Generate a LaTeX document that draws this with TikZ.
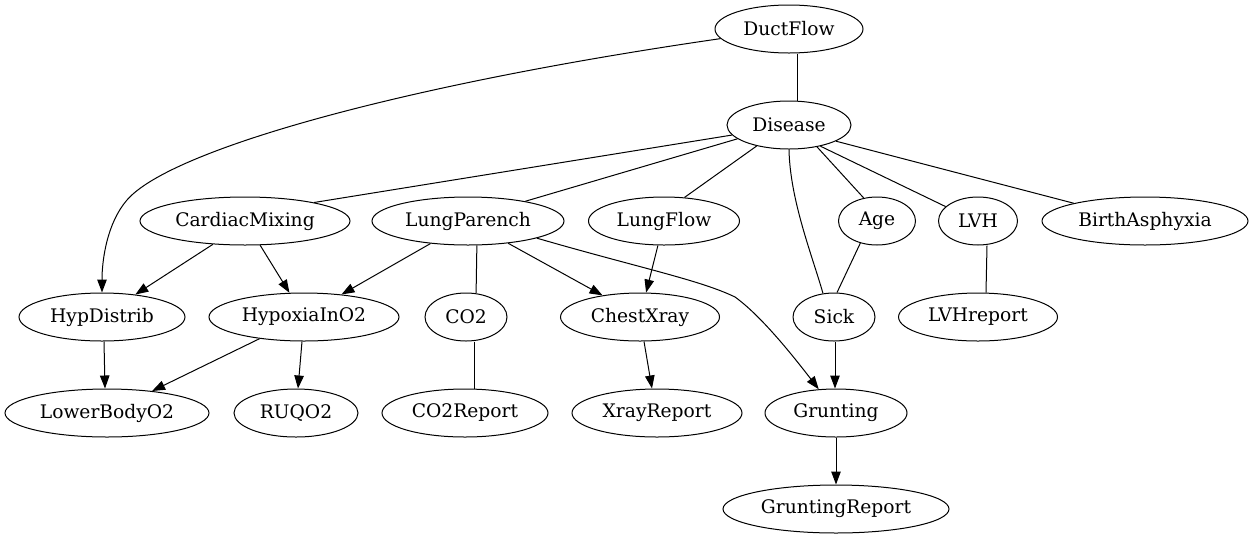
\documentclass[tikz,border=0pt]{standalone}
\usepackage{fontspec}
\setmainfont{DejaVu Serif}
\usetikzlibrary{arrows.meta,shapes.geometric}
\begin{document}
\begin{tikzpicture}[x=1pt,y=-1pt,
  nd/.style={draw,ellipse,line width=1pt,inner sep=0pt,minimum height=48pt,font=\fontsize{18.67}{22}\selectfont},
  ln/.style={line width=1pt},
  ar/.style={line width=1pt,-{Triangle[length=13pt,width=9.5pt]}}]
\useasboundingbox (0,0) rectangle (1253,539);
% row 0/1
\node[nd,minimum width=148pt] (DuctFlow) at (789,29) {DuctFlow};
\node[nd,minimum width=124pt] (Disease) at (789,125) {Disease};
% row 2
\node[nd,minimum width=210pt] (CardiacMixing) at (245,221) {CardiacMixing};
\node[nd,minimum width=192pt] (LungParench) at (468,221) {LungParench};
\node[nd,minimum width=151pt] (LungFlow) at (664,221) {LungFlow};
\node[nd,minimum width=77pt] (Age) at (877,221) {Age};
\node[nd,minimum width=79pt] (LVH) at (978,221) {LVH};
\node[nd,minimum width=206pt] (BirthAsphyxia) at (1145,221) {BirthAsphyxia};
% row 3
\node[nd,minimum width=166pt] (HypDistrib) at (102,317) {HypDistrib};
\node[nd,minimum width=190pt] (HypoxiaInO2) at (304,317) {HypoxiaInO2};
\node[nd,minimum width=82pt] (CO2) at (466,317) {CO2};
\node[nd,minimum width=159pt] (ChestXray) at (640,317) {ChestXray};
\node[nd,minimum width=82pt] (Sick) at (834,317) {Sick};
\node[nd,minimum width=159pt] (LVHreport) at (978,317) {LVHreport};
% row 4
\node[nd,minimum width=204pt] (LowerBodyO2) at (107,413) {LowerBodyO2};
\node[nd,minimum width=124pt] (RUQO2) at (296,413) {RUQO2};
\node[nd,minimum width=166pt] (CO2Report) at (465,413) {CO2Report};
\node[nd,minimum width=170pt] (XrayReport) at (657,413) {XrayReport};
\node[nd,minimum width=142pt] (Grunting) at (836,413) {Grunting};
% row 5
\node[nd,minimum width=226pt] (GruntingReport) at (836,509) {GruntingReport};

% edges
\draw[ln] ([xshift=8pt]DuctFlow.south) -- ([xshift=8pt]Disease.north);
\draw[ar] (DuctFlow.188) .. controls (400,85) and (170,150) .. (127,200)
          .. controls (107,223) and (102,260) .. (HypDistrib.north);
\draw[ln] (Disease.190) -- (CardiacMixing.15);
\draw[ln] (Disease.195.5) -- (LungParench.19);
\draw[ln] (Disease.213) -- (LungFlow.49);
\draw[ln] (Disease.south) .. controls (790,200) and (812,255) .. (Sick.115);
\draw[ln] (Disease.-38) -- (Age.120);
\draw[ln] (Disease.-34) -- (LVH.156);
\draw[ln] (Disease.-19.5) -- (BirthAsphyxia.166);
\draw[ar] (CardiacMixing.216) -- (HypDistrib.34);
\draw[ar] (CardiacMixing.302) -- (HypoxiaInO2.121);
\draw[ar] (LungParench.211) -- (HypoxiaInO2.31);
\draw[ln] (LungParench.290.6) -- (CO2.67.4);
\draw[ar] (LungParench.-29) -- (ChestXray.150);
\draw[ar] (LungParench.-14) .. controls (640,268) and (700,280) .. (735,297)
          .. controls (760,315) and (790,352) .. (Grunting.126.5);
\draw[ar] (LungFlow.256.5) -- (ChestXray.76);
\draw[ln] (Age.233.5) -- (Sick.83);
\draw[ln] ([xshift=9pt]LVH.south) -- ([xshift=8pt]LVHreport.north);
\draw[ar] ([xshift=2pt]HypDistrib.south) -- ([xshift=-2pt]LowerBodyO2.north);
\draw[ar] (HypoxiaInO2.206.6) -- (LowerBodyO2.26);
\draw[ar] ([xshift=-2pt]HypoxiaInO2.south) -- ([xshift=2pt]RUQO2.north);
\draw[ln] ([xshift=8pt]CO2.south) -- ([xshift=9pt]CO2Report.north);
\draw[ar] ([xshift=4pt]ChestXray.south) -- ([xshift=-5pt]XrayReport.north);
\draw[ar] ([xshift=1pt]Sick.south) -- ([xshift=-1pt]Grunting.north);
\draw[ar] (Grunting.south) -- (GruntingReport.north);
\end{tikzpicture}
\end{document}
